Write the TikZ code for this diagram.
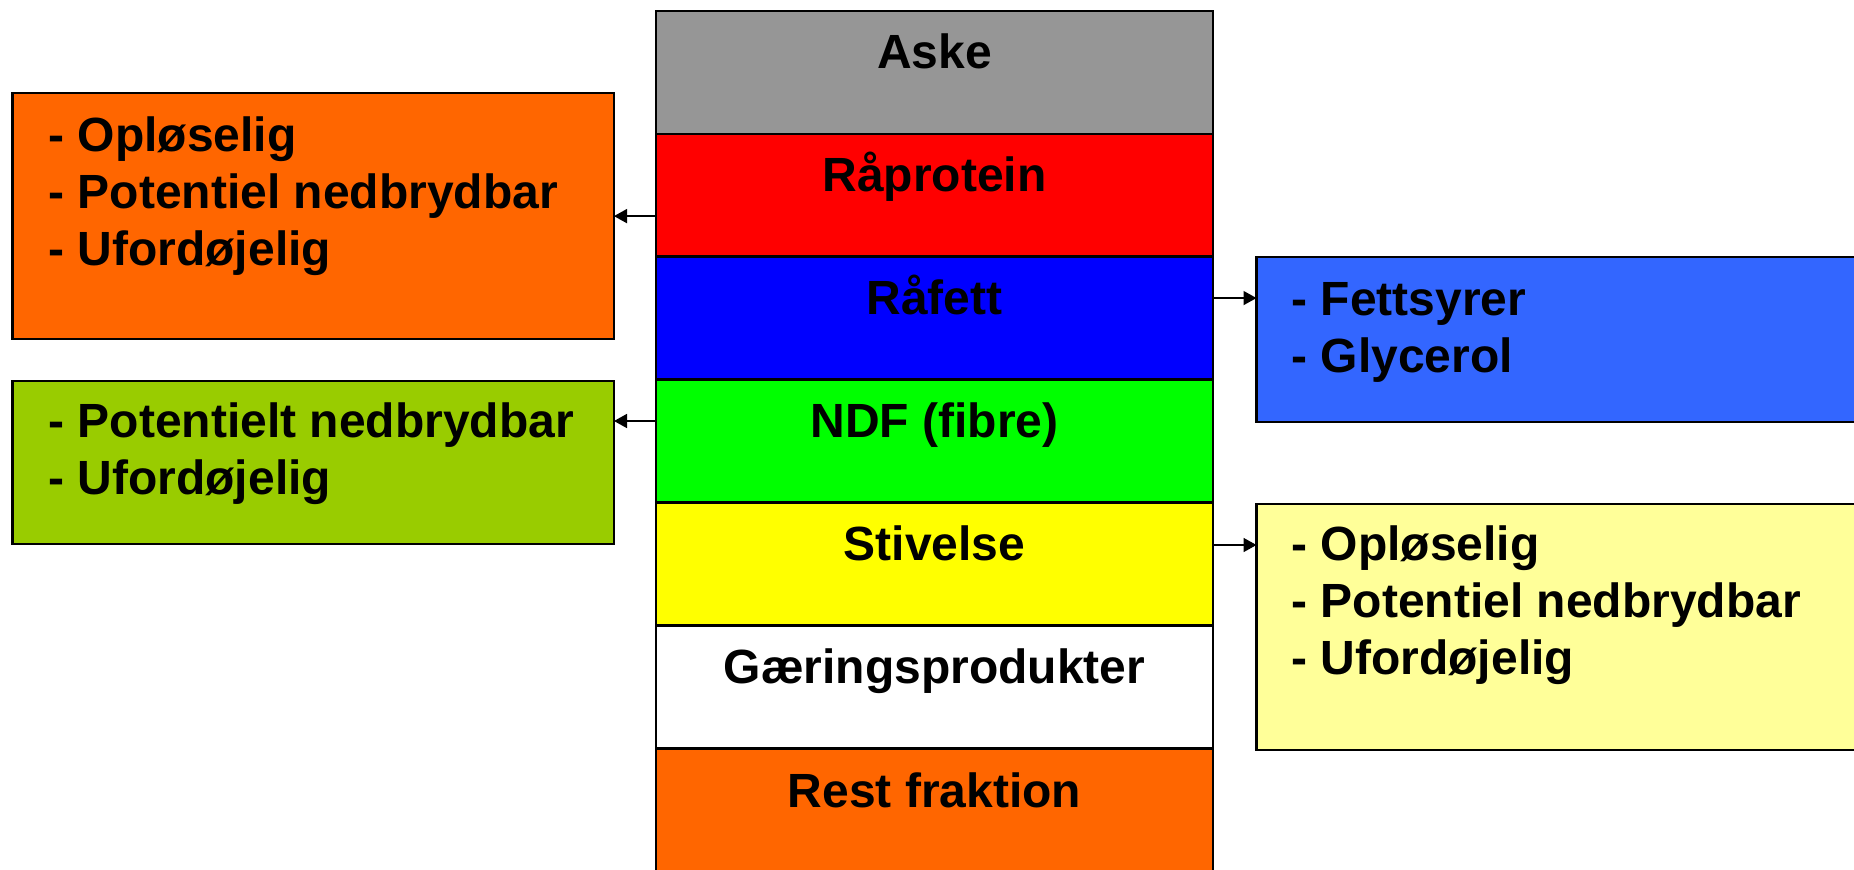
\documentclass[tikz,border=0pt]{standalone}
\usepackage{fontspec}
\setmainfont{Liberation Sans}
\usetikzlibrary{arrows.meta,calc}
\definecolor{askegray}{RGB}{150,150,150}
\definecolor{pureRed}{RGB}{255,0,0}
\definecolor{pureBlue}{RGB}{0,0,255}
\definecolor{pureGreen}{RGB}{0,255,0}
\definecolor{pureYellow}{RGB}{255,255,0}
\definecolor{orangeBox}{RGB}{255,102,0}
\definecolor{limeBox}{RGB}{153,204,0}
\definecolor{blueBox}{RGB}{51,102,255}
\definecolor{yellowBox}{RGB}{255,255,153}
\begin{document}
\begin{tikzpicture}[x=0.5pt,y=-0.5pt,
  band/.style={draw=black,line width=1.1pt,minimum width=278.5pt,minimum height=61.5pt,inner sep=0pt,outer sep=0pt},
  sidebox/.style={draw=black,line width=1.1pt,inner sep=0pt,outer sep=0pt},
  bandtext/.style={anchor=base,inner sep=0pt,font=\bfseries\fontsize{24pt}{28.5pt}\selectfont},
  listtext/.style={anchor=base west,inner sep=0pt,font=\bfseries\fontsize{24pt}{28.5pt}\selectfont},
  arr/.style={line width=0.8pt,-{Triangle[length=6.5pt,width=7pt]}}]
\useasboundingbox (0,0) rectangle (1854,869);
\clip (0,0) rectangle (1854,869);
\fill[white] (0,0) rectangle (1854,869);

% central column
\node[band,fill=askegray]   (aske)  at (934.6,72.1)   {};
\node[band,fill=pureRed]    (rapr)  at (934.6,195.1)  {};
\node[band,fill=pureBlue]   (rafe)  at (934.6,318.05) {};
\node[band,fill=pureGreen]  (ndf)   at (934.6,441)    {};
\node[band,fill=pureYellow] (stiv)  at (934.6,564)    {};
\node[band,fill=white]      (gaer)  at (934.6,686.95) {};
\node[band,fill=orangeBox]  (rest)  at (934.6,809.9)  {};

\node[bandtext] (taske) at ($(aske.north)+(0,58)$) {Aske};
\node[bandtext] (trapr) at ($(rapr.north)+(0,58)$) {Råprotein};
\node[bandtext] (trafe) at ($(rafe.north)+(0,58)$) {Råfett};
\node[bandtext] (tndf)  at ($(ndf.north)+(0,58)$)  {NDF (fibre)};
\node[bandtext] (tstiv) at ($(stiv.north)+(0,58)$) {Stivelse};
\node[bandtext] (tgaer) at ($(gaer.north)+(0,58)$) {Gæringsprodukter};
\node[bandtext] (trest) at ($(rest.north)+(0,59.5)$) {Rest fraktion};

% side boxes
\node[sidebox,fill=orangeBox,minimum width=300.75pt,minimum height=123.3pt] (lorange) at (313.25,216) {};
\node[sidebox,fill=limeBox,minimum width=300.75pt,minimum height=81.8pt] (lgreen) at (313.25,462.5) {};
\node[sidebox,fill=blueBox,minimum width=325pt,minimum height=82.5pt] (rblue) at (1581.5,339.2) {};
\node[sidebox,fill=yellowBox,minimum width=325pt,minimum height=123pt] (ryellow) at (1581.5,627) {};

\node[listtext] (tlorange) at (48,151.7) {\begin{tabular}[t]{@{}l@{}}- Opløselig\\- Potentiel nedbrydbar\\- Ufordøjelig\end{tabular}};
\node[listtext] (tlgreen) at (48,437.3) {\begin{tabular}[t]{@{}l@{}}- Potentielt nedbrydbar\\- Ufordøjelig\end{tabular}};
\node[listtext] (trblue) at (1291,315) {\begin{tabular}[t]{@{}l@{}}- Fettsyrer\\- Glycerol\end{tabular}};
\node[listtext] (tryellow) at (1291,560) {\begin{tabular}[t]{@{}l@{}}- Opløselig\\- Potentiel nedbrydbar\\- Ufordøjelig\end{tabular}};

% connectors
\coordinate (c1) at ($(rapr.west)+(0,21)$);
\coordinate (c2) at ($(ndf.west)+(0,-20)$);
\coordinate (c3) at ($(rafe.east)+(0,-20)$);
\coordinate (c4) at ($(stiv.east)+(0,-19)$);
\draw[arr] (c1) -- (c1 -| lorange.east);
\draw[arr] (c2) -- (c2 -| lgreen.east);
\draw[arr] (c3) -- (c3 -| rblue.west);
\draw[arr] (c4) -- (c4 -| ryellow.west);
\end{tikzpicture}
\end{document}
